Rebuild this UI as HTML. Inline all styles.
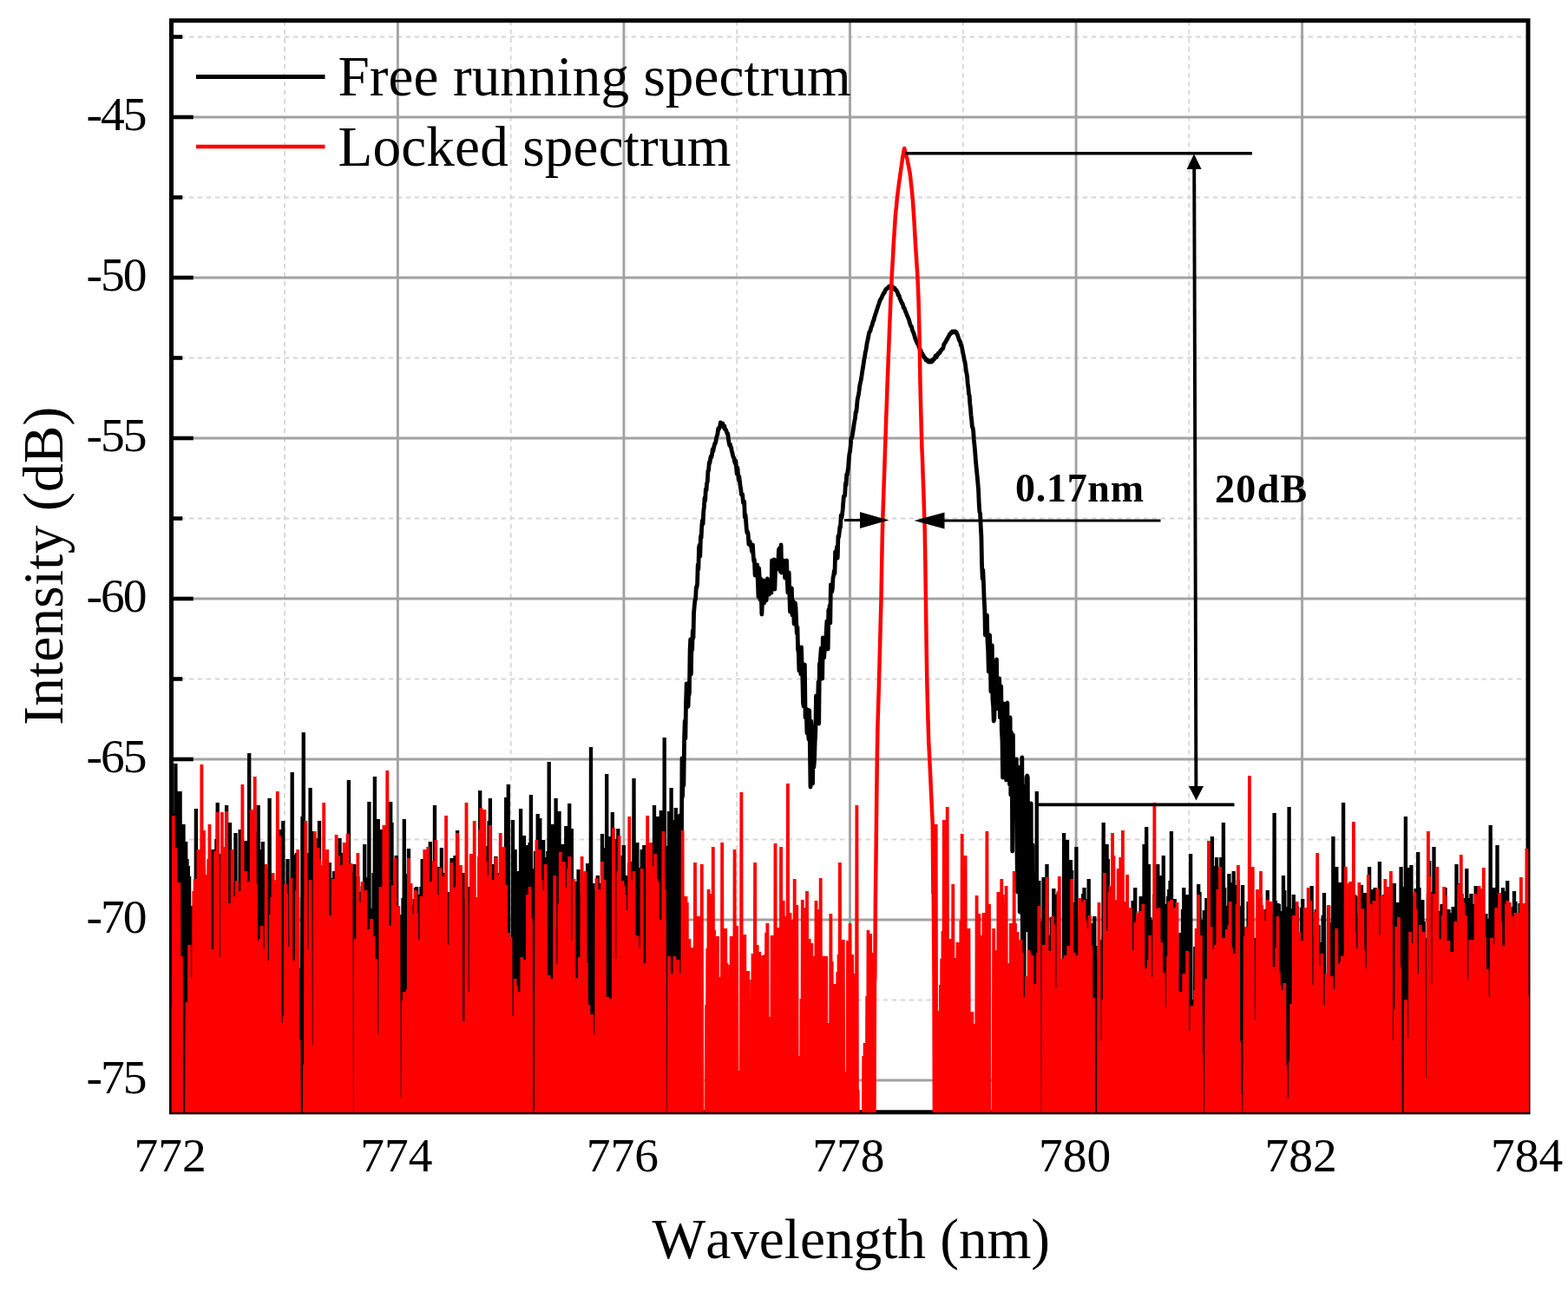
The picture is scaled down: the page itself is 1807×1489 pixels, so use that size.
<!DOCTYPE html>
<html lang="en">
<head>
<meta charset="utf-8">
<title>Free running spectrum vs. locked spectrum</title>
<style>
html,body{margin:0;padding:0;background:#fff;}
body{width:1807px;height:1489px;overflow:hidden;font-family:"Liberation Serif","DejaVu Serif",serif;}
svg{display:block;}
</style>
</head>
<body>
<svg width="1807" height="1489" viewBox="0 0 1807 1489" role="img" aria-label="Free running spectrum and locked spectrum, intensity versus wavelength" font-family="'Liberation Serif', 'DejaVu Serif', serif">
<rect x="0" y="0" width="1807" height="1489" fill="#fff"/>
<defs><clipPath id="cp"><rect x="197.6" y="23.7" width="1564.4" height="1258.3"/></clipPath></defs>
<g stroke="#d6d6d6" stroke-width="1.8" stroke-dasharray="5.4 4.6" fill="none">
<path d="M328.1 24.0V1282.0"/>
<path d="M588.7 24.0V1282.0"/>
<path d="M849.2 24.0V1282.0"/>
<path d="M1109.8 24.0V1282.0"/>
<path d="M1370.3 24.0V1282.0"/>
<path d="M1630.9 24.0V1282.0"/>
<path d="M197.8 42.5H1761.2"/>
<path d="M197.8 227.5H1761.2"/>
<path d="M197.8 412.5H1761.2"/>
<path d="M197.8 597.5H1761.2"/>
<path d="M197.8 782.5H1761.2"/>
<path d="M197.8 967.5H1761.2"/>
<path d="M197.8 1152.5H1761.2"/>
</g>
<g stroke="#a2a2a2" stroke-width="2.9" fill="none">
<path d="M458.4 24.0V1282.0"/>
<path d="M718.9 24.0V1282.0"/>
<path d="M979.5 24.0V1282.0"/>
<path d="M1240.1 24.0V1282.0"/>
<path d="M1500.6 24.0V1282.0"/>
<path d="M197.8 135.0H1761.2"/>
<path d="M197.8 320.0H1761.2"/>
<path d="M197.8 505.0H1761.2"/>
<path d="M197.8 690.0H1761.2"/>
<path d="M197.8 875.0H1761.2"/>
<path d="M197.8 1060.0H1761.2"/>
<path d="M197.8 1245.0H1761.2"/>
</g>
<rect x="197.5" y="23.7" width="1563.5" height="1258.1" fill="none" stroke="#000" stroke-width="5"/>
<g stroke="#000" stroke-width="4.6" fill="none">
<path d="M197.8 135.0h25"/>
<path d="M197.8 320.0h25"/>
<path d="M197.8 505.0h25"/>
<path d="M197.8 690.0h25"/>
<path d="M197.8 875.0h25"/>
<path d="M197.8 1060.0h25"/>
<path d="M197.8 1245.0h25"/>
<path d="M197.8 42.5h12.5"/>
<path d="M197.8 227.5h12.5"/>
<path d="M197.8 412.5h12.5"/>
<path d="M197.8 597.5h12.5"/>
<path d="M197.8 782.5h12.5"/>
<path d="M197.8 967.5h12.5"/>
<path d="M197.8 1152.5h12.5"/>
</g>
<g clip-path="url(#cp)" fill="none" stroke-linejoin="bevel" stroke-linecap="butt">
<path d="M197.2 979L197.9 1352L198.5 1044L199.2 1352L199.8 1063L200.5 1352L201.1 937L201.8 1352L202.4 880L203.1 1352L203.7 984L204.4 1352L205.0 912L205.7 1352L206.3 1248L207.0 1352L207.6 912L208.3 1352L208.9 964L209.6 1352L210.2 980L210.9 1352L211.5 950L212.2 1352L212.8 1274L213.5 1352L214.2 970L214.8 1352L215.5 990L216.1 1352L216.8 998L217.4 1352L218.1 1010L218.7 1352L219.4 1068L220.0 1352L220.7 1044L221.3 1352L222.0 1071L222.6 1352L223.3 1079L223.9 1352L224.6 1055L225.2 1352L225.9 932L226.5 1352L227.2 1131L227.8 1352L228.5 1080L229.1 1352L229.8 1046L230.5 1352L231.1 1149L231.8 1352L232.4 1053L233.1 1352L233.7 1315L234.4 1352L235.0 999L235.7 1352L236.3 1053L237.0 1352L237.6 1041L238.3 1352L238.9 1020L239.6 1352L240.2 1061L240.9 1352L241.5 1003L242.2 1352L242.8 1140L243.5 1352L244.1 1187L244.8 1352L245.4 979L246.1 1352L246.8 1038L247.4 1352L248.1 1009L248.7 1352L249.4 967L250.0 1352L250.7 925L251.3 1352L252.0 1216L252.6 1352L253.3 1032L253.9 1352L254.6 984L255.2 1352L255.9 1081L256.5 1352L257.2 998L257.8 1352L258.5 1221L259.1 1352L259.8 1000L260.4 1352L261.1 928L261.7 1352L262.4 961L263.1 1352L263.7 1019L264.4 1352L265.0 948L265.7 1352L266.3 1039L267.0 1352L267.6 1226L268.3 1352L268.9 1087L269.6 1352L270.2 1018L270.9 1352L271.5 960L272.2 1352L272.8 1335L273.5 1352L274.1 1037L274.8 1352L275.4 1086L276.1 1352L276.7 956L277.4 1352L278.0 1169L278.7 1352L279.4 1060L280.0 1352L280.7 1014L281.3 1352L282.0 1015L282.6 1352L283.3 969L283.9 1352L284.6 991L285.2 1352L285.9 992L286.5 1352L287.2 868L287.8 1352L288.5 1038L289.1 1352L289.8 979L290.4 1352L291.1 1107L291.7 1352L292.4 997L293.0 1352L293.7 959L294.3 1352L295.0 1063L295.7 1352L296.3 1216L297.0 1352L297.6 928L298.3 1352L298.9 1012L299.6 1352L300.2 995L300.9 1352L301.5 979L302.2 1352L302.8 970L303.5 1352L304.1 1012L304.8 1352L305.4 1101L306.1 1352L306.7 1043L307.4 1352L308.0 1175L308.7 1352L309.3 1001L310.0 1352L310.6 920L311.3 1352L312.0 1015L312.6 1352L313.3 1006L313.9 1352L314.6 1312L315.2 1352L315.9 1264L316.5 1352L317.2 1018L317.8 1352L318.5 1033L319.1 1352L319.8 1015L320.4 1352L321.1 1110L321.7 1352L322.4 956L323.0 1352L323.7 1028L324.3 1352L325.0 1005L325.6 1352L326.3 946L326.9 1352L327.6 1169L328.3 1352L328.9 1108L329.6 1352L330.2 1052L330.9 1352L331.5 990L332.2 1352L332.8 1078L333.5 1352L334.1 1086L334.8 1352L335.4 1127L336.1 1352L336.7 890L337.4 1352L338.0 1248L338.7 1352L339.3 985L340.0 1352L340.6 1069L341.3 1352L341.9 983L342.6 1352L343.2 1034L343.9 1352L344.6 1130L345.2 1352L345.9 1215L346.5 1352L347.2 1116L347.8 1352L348.5 941L349.1 1352L349.8 844L350.4 1352L351.1 1021L351.7 1352L352.4 988L353.0 1352L353.7 1338L354.3 1352L355.0 983L355.6 1352L356.3 1004L356.9 1352L357.6 908L358.2 1352L358.9 1021L359.5 1352L360.2 958L360.9 1352L361.5 1190L362.2 1352L362.8 1072L363.5 1352L364.1 987L364.8 1352L365.4 1044L366.1 1352L366.7 966L367.4 1352L368.0 946L368.7 1352L369.3 1066L370.0 1352L370.6 1003L371.3 1352L371.9 1005L372.6 1352L373.2 1054L373.9 1352L374.5 1072L375.2 1352L375.8 1016L376.5 1352L377.2 1074L377.8 1352L378.5 1020L379.1 1352L379.8 994L380.4 1352L381.1 1012L381.7 1352L382.4 1026L383.0 1352L383.7 1233L384.3 1352L385.0 1004L385.6 1352L386.3 1055L386.9 1352L387.6 1293L388.2 1352L388.9 1227L389.5 1352L390.2 1088L390.8 1352L391.5 966L392.1 1352L392.8 1008L393.5 1352L394.1 1084L394.8 1352L395.4 983L396.1 1352L396.7 1038L397.4 1352L398.0 1008L398.7 1352L399.3 1097L400.0 1352L400.6 1142L401.3 1352L401.9 899L402.6 1352L403.2 1117L403.9 1352L404.5 1008L405.2 1352L405.8 1132L406.5 1352L407.1 1005L407.8 1352L408.4 996L409.1 1352L409.8 1017L410.4 1352L411.1 1044L411.7 1352L412.4 1010L413.0 1352L413.7 1064L414.3 1352L415.0 1064L415.6 1352L416.3 1028L416.9 1352L417.6 1021L418.2 1352L418.9 1104L419.5 1352L420.2 973L420.8 1352L421.5 1011L422.1 1352L422.8 1138L423.4 1352L424.1 1029L424.7 1352L425.4 924L426.1 1352L426.7 1053L427.4 1352L428.0 1081L428.7 1352L429.3 1047L430.0 1352L430.6 1006L431.3 1352L431.9 895L432.6 1352L433.2 1313L433.9 1352L434.5 971L435.2 1352L435.8 944L436.5 1352L437.1 1016L437.8 1352L438.4 1053L439.1 1352L439.7 956L440.4 1352L441.0 1138L441.7 1352L442.4 1128L443.0 1352L443.7 1072L444.3 1352L445.0 1222L445.6 1352L446.3 1114L446.9 1352L447.6 1012L448.2 1352L448.9 1074L449.5 1352L450.2 924L450.8 1352L451.5 948L452.1 1352L452.8 1018L453.4 1352L454.1 1112L454.7 1352L455.4 1025L456.0 1352L456.7 986L457.3 1352L458.0 1196L458.7 1352L459.3 1085L460.0 1352L460.6 1109L461.3 1352L461.9 1054L462.6 1352L463.2 1128L463.9 1352L464.5 1035L465.2 1352L465.8 944L466.5 1352L467.1 1056L467.8 1352L468.4 1007L469.1 1352L469.7 1148L470.4 1352L471.0 978L471.7 1352L472.3 1090L473.0 1352L473.6 1141L474.3 1352L475.0 1043L475.6 1352L476.3 1201L476.9 1352L477.6 1036L478.2 1352L478.9 1023L479.5 1352L480.2 1022L480.8 1352L481.5 1036L482.1 1352L482.8 1031L483.4 1352L484.1 1174L484.7 1352L485.4 1022L486.0 1352L486.7 990L487.3 1352L488.0 1029L488.6 1352L489.3 1049L489.9 1352L490.6 1044L491.3 1352L491.9 1017L492.6 1352L493.2 1182L493.9 1352L494.5 998L495.2 1352L495.8 970L496.5 1352L497.1 995L497.8 1352L498.4 1307L499.1 1352L499.7 1023L500.4 1352L501.0 928L501.7 1352L502.3 1050L503.0 1352L503.6 999L504.3 1352L504.9 999L505.6 1352L506.2 1095L506.9 1352L507.6 1051L508.2 1352L508.9 977L509.5 1352L510.2 1011L510.8 1352L511.5 1006L512.1 1352L512.8 1187L513.4 1352L514.1 1119L514.7 1352L515.4 1033L516.0 1352L516.7 1028L517.3 1352L518.0 1106L518.6 1352L519.3 1302L519.9 1352L520.6 989L521.2 1352L521.9 1022L522.5 1352L523.2 1045L523.9 1352L524.5 986L525.2 1352L525.8 1001L526.5 1352L527.1 957L527.8 1352L528.4 1025L529.1 1352L529.7 1107L530.4 1352L531.0 1065L531.7 1352L532.3 1015L533.0 1352L533.6 1006L534.3 1352L534.9 1036L535.6 1352L536.2 1195L536.9 1352L537.5 1235L538.2 1352L538.8 1022L539.5 1352L540.2 1207L540.8 1352L541.5 1249L542.1 1352L542.8 1028L543.4 1352L544.1 1110L544.7 1352L545.4 1022L546.0 1352L546.7 1036L547.3 1352L548.0 1040L548.6 1352L549.3 1145L549.9 1352L550.6 1235L551.2 1352L551.9 1035L552.5 1352L553.2 911L553.8 1352L554.5 976L555.1 1352L555.8 1222L556.5 1352L557.1 1190L557.8 1352L558.4 1298L559.1 1352L559.7 1061L560.4 1352L561.0 1044L561.7 1352L562.3 975L563.0 1352L563.6 946L564.3 1352L564.9 920L565.6 1352L566.2 1024L566.9 1352L567.5 1023L568.2 1352L568.8 996L569.5 1352L570.1 1038L570.8 1352L571.4 987L572.1 1352L572.8 1013L573.4 1352L574.1 1036L574.7 1352L575.4 1006L576.0 1352L576.7 1018L577.3 1352L578.0 998L578.6 1352L579.3 1008L579.9 1352L580.6 1011L581.2 1352L581.9 999L582.5 1352L583.2 919L583.8 1352L584.5 1220L585.1 1352L585.8 904L586.4 1352L587.1 1232L587.7 1352L588.4 1258L589.1 1352L589.7 1128L590.4 1352L591.0 945L591.7 1352L592.3 992L593.0 1352L593.6 979L594.3 1352L594.9 1026L595.6 1352L596.2 1013L596.9 1352L597.5 1004L598.2 1352L598.8 1128L599.5 1352L600.1 932L600.8 1352L601.4 971L602.1 1352L602.7 990L603.4 1352L604.0 963L604.7 1352L605.4 1066L606.0 1352L606.7 985L607.3 1352L608.0 974L608.6 1352L609.3 1039L609.9 1352L610.6 971L611.2 1352L611.9 916L612.5 1352L613.2 1015L613.8 1352L614.5 1001L615.1 1352L615.8 1186L616.4 1352L617.1 981L617.7 1352L618.4 1116L619.0 1352L619.7 938L620.3 1352L621.0 951L621.7 1352L622.3 943L623.0 1352L623.6 1017L624.3 1352L624.9 977L625.6 1352L626.2 968L626.9 1352L627.5 988L628.2 1352L628.8 997L629.5 1352L630.1 1208L630.8 1352L631.4 981L632.1 1352L632.7 878L633.4 1352L634.0 1010L634.7 1352L635.3 971L636.0 1352L636.6 950L637.3 1352L638.0 967L638.6 1352L639.3 977L639.9 1352L640.6 920L641.2 1352L641.9 963L642.5 1352L643.2 1026L643.8 1352L644.5 935L645.1 1352L645.8 1089L646.4 1352L647.1 1285L647.7 1352L648.4 973L649.0 1352L649.7 1038L650.3 1352L651.0 986L651.6 1352L652.3 952L652.9 1352L653.6 1209L654.3 1352L654.9 1086L655.6 1352L656.2 926L656.9 1352L657.5 1266L658.2 1352L658.8 955L659.5 1352L660.1 1149L660.8 1352L661.4 1237L662.1 1352L662.7 1016L663.4 1352L664.0 1024L664.7 1352L665.3 1038L666.0 1352L666.6 1002L667.3 1352L667.9 1049L668.6 1352L669.2 1029L669.9 1352L670.6 1097L671.2 1352L671.9 1037L672.5 1352L673.2 1017L673.8 1352L674.5 1069L675.1 1352L675.8 1048L676.4 1352L677.1 995L677.7 1352L678.4 1012L679.0 1352L679.7 1155L680.3 1352L681.0 861L681.6 1352L682.3 1018L682.9 1352L683.6 1018L684.2 1352L684.9 1139L685.5 1352L686.2 1061L686.9 1352L687.5 1027L688.2 1352L688.8 1009L689.5 1352L690.1 1027L690.8 1352L691.4 1020L692.1 1352L692.7 1018L693.4 1352L694.0 961L694.7 1352L695.3 1009L696.0 1352L696.6 977L697.3 1352L697.9 1046L698.6 1352L699.2 892L699.9 1352L700.5 1203L701.2 1352L701.8 964L702.5 1352L703.2 976L703.8 1352L704.5 1064L705.1 1352L705.8 936L706.4 1352L707.1 1121L707.7 1352L708.4 1022L709.0 1352L709.7 967L710.3 1352L711.0 1094L711.6 1352L712.3 955L712.9 1352L713.6 1059L714.2 1352L714.9 1216L715.5 1352L716.2 1110L716.8 1352L717.5 986L718.1 1352L718.8 974L719.5 1352L720.1 1210L720.8 1352L721.4 1052L722.1 1352L722.7 1009L723.4 1352L724.0 1047L724.7 1352L725.3 994L726.0 1352L726.6 1009L727.3 1352L727.9 993L728.6 1352L729.2 1060L729.9 1352L730.5 897L731.2 1352L731.8 1258L732.5 1352L733.1 1170L733.8 1352L734.4 971L735.1 1352L735.8 1000L736.4 1352L737.1 1247L737.7 1352L738.4 1021L739.0 1352L739.7 979L740.3 1352L741.0 1003L741.6 1352L742.3 974L742.9 1352L743.6 999L744.2 1352L744.9 1137L745.5 1352L746.2 1198L746.8 1352L747.5 1006L748.1 1352L748.8 1028L749.4 1352L750.1 1018L750.7 1352L751.4 1005L752.1 1352L752.7 1291L753.4 1352L754.0 928L754.7 1352L755.3 969L756.0 1352L756.6 968L757.3 1352L757.9 941L758.6 1352L759.2 1033L759.9 1352L760.5 1020L761.2 1352L761.8 934L762.5 1352L763.1 998L763.8 1352L764.4 968L765.1 1352L765.7 850L766.4 1352L767.0 997L767.7 1352L768.4 975L769.0 1352L769.7 1211L770.3 1352L771.0 935L771.6 1352L772.3 989L772.9 1352L773.6 908L774.2 1352L774.9 992L775.5 1352L776.2 959L776.8 1352L777.5 945L778.1 1352L778.8 931L779.4 1226M1192.2 1021L1192.8 1352L1193.5 1006L1194.1 1352L1194.8 912L1195.4 1352L1196.1 1281L1196.7 1352L1197.4 1015L1198.0 1352L1198.7 1188L1199.3 1352L1200.0 1062L1200.6 1352L1201.3 1315L1201.9 1352L1202.6 1011L1203.2 1352L1203.9 1265L1204.5 1352L1205.2 1131L1205.8 1352L1206.5 996L1207.1 1352L1207.8 1078L1208.5 1352L1209.1 1107L1209.8 1352L1210.4 1112L1211.1 1352L1211.7 1057L1212.4 1352L1213.0 1091L1213.7 1352L1214.3 1024L1215.0 1352L1215.6 1031L1216.3 1352L1216.9 1062L1217.6 1352L1218.2 1226L1218.9 1352L1219.5 1029L1220.2 1352L1220.8 1152L1221.5 1352L1222.1 1322L1222.8 1352L1223.4 1218L1224.1 1352L1224.8 1294L1225.4 1352L1226.1 960L1226.7 1352L1227.4 1009L1228.0 1352L1228.7 1011L1229.3 1352L1230.0 968L1230.6 1352L1231.3 1024L1231.9 1352L1232.6 1043L1233.2 1352L1233.9 991L1234.5 1352L1235.2 1003L1235.8 1352L1236.5 1040L1237.1 1352L1237.8 1043L1238.4 1352L1239.1 1089L1239.7 1352L1240.4 976L1241.1 1352L1241.7 1058L1242.4 1352L1243.0 1119L1243.7 1352L1244.3 1146L1245.0 1352L1245.6 1047L1246.3 1352L1246.9 1072L1247.6 1352L1248.2 1030L1248.9 1352L1249.5 1023L1250.2 1352L1250.8 1036L1251.5 1352L1252.1 1038L1252.8 1352L1253.4 1079L1254.1 1352L1254.7 1013L1255.4 1352L1256.0 1074L1256.7 1352L1257.4 1159L1258.0 1352L1258.7 1064L1259.3 1352L1260.0 1101L1260.6 1352L1261.3 1056L1261.9 1352L1262.6 1090L1263.2 1352L1263.9 1114L1264.5 1352L1265.2 1286L1265.8 1352L1266.5 1104L1267.1 1352L1267.8 1083L1268.4 1352L1269.1 1100L1269.7 1352L1270.4 1142L1271.0 1352L1271.7 948L1272.3 1352L1273.0 1027L1273.7 1352L1274.3 1062L1275.0 1352L1275.6 973L1276.3 1352L1276.9 990L1277.6 1352L1278.2 1316L1278.9 1352L1279.5 1225L1280.2 1352L1280.8 1080L1281.5 1352L1282.1 1137L1282.8 1352L1283.4 1222L1284.1 1352L1284.7 1039L1285.4 1352L1286.0 1315L1286.7 1352L1287.3 1057L1288.0 1352L1288.6 1050L1289.3 1352L1290.0 1083L1290.6 1352L1291.3 1102L1291.9 1352L1292.6 1098L1293.2 1352L1293.9 1056L1294.5 1352L1295.2 1242L1295.8 1352L1296.5 1098L1297.1 1352L1297.8 1308L1298.4 1352L1299.1 1068L1299.7 1352L1300.4 1148L1301.0 1352L1301.7 1070L1302.3 1352L1303.0 1055L1303.6 1352L1304.3 1197L1304.9 1352L1305.6 1038L1306.3 1352L1306.9 1089L1307.6 1352L1308.2 1023L1308.9 1352L1309.5 1170L1310.2 1352L1310.8 1108L1311.5 1352L1312.1 1088L1312.8 1352L1313.4 1302L1314.1 1352L1314.7 1033L1315.4 1352L1316.0 1075L1316.7 1352L1317.3 1282L1318.0 1352L1318.6 973L1319.3 1352L1319.9 1101L1320.6 1352L1321.2 953L1321.9 1352L1322.6 1036L1323.2 1352L1323.9 996L1324.5 1352L1325.2 1057L1325.8 1352L1326.5 1063L1327.1 1352L1327.8 1060L1328.4 1352L1329.1 1088L1329.7 1352L1330.4 1031L1331.0 1352L1331.7 1200L1332.3 1352L1333.0 1033L1333.6 1352L1334.3 996L1334.9 1352L1335.6 1042L1336.2 1352L1336.9 1257L1337.5 1352L1338.2 1009L1338.9 1352L1339.5 1031L1340.2 1352L1340.8 986L1341.5 1352L1342.1 1247L1342.8 1352L1343.4 1042L1344.1 1352L1344.7 1167L1345.4 1352L1346.0 1033L1346.7 1352L1347.3 1025L1348.0 1352L1348.6 1015L1349.3 1352L1349.9 958L1350.6 1352L1351.2 1119L1351.9 1352L1352.5 1326L1353.2 1352L1353.8 1036L1354.5 1352L1355.2 1288L1355.8 1352L1356.5 1123L1357.1 1352L1357.8 1234L1358.4 1352L1359.1 1323L1359.7 1352L1360.4 1075L1361.0 1352L1361.7 1080L1362.3 1352L1363.0 1048L1363.6 1352L1364.3 1023L1364.9 1352L1365.6 1036L1366.2 1352L1366.9 1066L1367.5 1352L1368.2 1031L1368.8 1352L1369.5 1054L1370.1 1352L1370.8 1122L1371.5 1352L1372.1 984L1372.8 1352L1373.4 1285L1374.1 1352L1374.7 1152L1375.4 1352L1376.0 1264L1376.7 1352L1377.3 1091L1378.0 1352L1378.6 1116L1379.3 1352L1379.9 1081L1380.6 1352L1381.2 1019L1381.9 1352L1382.5 1028L1383.2 1352L1383.8 1126L1384.5 1352L1385.1 1060L1385.8 1352L1386.4 1060L1387.1 1352L1387.8 1049L1388.4 1352L1389.1 1056L1389.7 1352L1390.4 1035L1391.0 1352L1391.7 1036L1392.3 1352L1393.0 1041L1393.6 1352L1394.3 1106L1394.9 1352L1395.6 1043L1396.2 1352L1396.9 964L1397.5 1352L1398.2 1085L1398.8 1352L1399.5 1271L1400.1 1352L1400.8 998L1401.4 1352L1402.1 988L1402.7 1352L1403.4 1018L1404.1 1352L1404.7 1023L1405.4 1352L1406.0 1010L1406.7 1352L1407.3 988L1408.0 1352L1408.6 1021L1409.3 1352L1409.9 948L1410.6 1352L1411.2 1023L1411.9 1352L1412.5 1062L1413.2 1352L1413.8 1093L1414.5 1352L1415.1 1044L1415.8 1352L1416.4 1007L1417.1 1352L1417.7 1017L1418.4 1352L1419.0 1029L1419.7 1352L1420.4 1032L1421.0 1352L1421.7 1004L1422.3 1352L1423.0 1191L1423.6 1352L1424.3 1110L1424.9 1352L1425.6 1020L1426.2 1352L1426.9 1014L1427.5 1352L1428.2 1055L1428.8 1352L1429.5 1044L1430.1 1352L1430.8 1100L1431.4 1352L1432.1 1020L1432.7 1352L1433.4 1101L1434.0 1352L1434.7 1078L1435.3 1352L1436.0 1069L1436.7 1352L1437.3 1222L1438.0 1352L1438.6 1039L1439.3 1352L1439.9 1077L1440.6 1352L1441.2 1077L1441.9 1352L1442.5 1314L1443.2 1352L1443.8 1311L1444.5 1352L1445.1 1081L1445.8 1352L1446.4 1125L1447.1 1352L1447.7 1103L1448.4 1352L1449.0 1057L1449.7 1352L1450.3 1035L1451.0 1352L1451.6 1043L1452.3 1352L1453.0 1034L1453.6 1352L1454.3 1175L1454.9 1352L1455.6 1110L1456.2 1352L1456.9 1123L1457.5 1352L1458.2 1048L1458.8 1352L1459.5 1057L1460.1 1352L1460.8 1026L1461.4 1352L1462.1 1164L1462.7 1352L1463.4 1133L1464.0 1352L1464.7 1255L1465.3 1352L1466.0 1062L1466.6 1352L1467.3 1054L1467.9 1352L1468.6 937L1469.3 1352L1469.9 1038L1470.6 1352L1471.2 1073L1471.9 1352L1472.5 1041L1473.2 1352L1473.8 1042L1474.5 1352L1475.1 1108L1475.8 1352L1476.4 1063L1477.1 1352L1477.7 1050L1478.4 1352L1479.0 1009L1479.7 1352L1480.3 1026L1481.0 1352L1481.6 1170L1482.3 1352L1482.9 1304L1483.6 1352L1484.2 1045L1484.9 1352L1485.6 930L1486.2 1352L1486.9 1191L1487.5 1352L1488.2 1194L1488.8 1352L1489.5 1047L1490.1 1352L1490.8 1031L1491.4 1352L1492.1 1103L1492.7 1352L1493.4 1086L1494.0 1352L1494.7 1044L1495.3 1352L1496.0 1115L1496.6 1352L1497.3 1106L1497.9 1352L1498.6 1081L1499.2 1352L1499.9 1046L1500.5 1352L1501.2 1036L1501.9 1352L1502.5 1060L1503.2 1352L1503.8 1090L1504.5 1352L1505.1 1080L1505.8 1352L1506.4 1080L1507.1 1352L1507.7 1052L1508.4 1352L1509.0 1060L1509.7 1352L1510.3 1057L1511.0 1352L1511.6 1021L1512.3 1352L1512.9 1174L1513.6 1352L1514.2 1080L1514.9 1352L1515.5 1085L1516.2 1352L1516.8 1048L1517.5 1352L1518.2 1147L1518.8 1352L1519.5 1066L1520.1 1352L1520.8 1121L1521.4 1352L1522.1 1234L1522.7 1352L1523.4 1086L1524.0 1352L1524.7 1055L1525.3 1352L1526.0 1029L1526.6 1352L1527.3 1232L1527.9 1352L1528.6 1128L1529.2 1352L1529.9 1143L1530.5 1352L1531.2 1044L1531.8 1352L1532.5 1204L1533.1 1352L1533.8 1063L1534.5 1352L1535.1 1073L1535.8 1352L1536.4 964L1537.1 1352L1537.7 1023L1538.4 1352L1539.0 1046L1539.7 1352L1540.3 999L1541.0 1352L1541.6 1034L1542.3 1352L1542.9 1113L1543.6 1352L1544.2 1017L1544.9 1352L1545.5 1129L1546.2 1352L1546.8 1020L1547.5 1352L1548.1 925L1548.8 1352L1549.4 1072L1550.1 1352L1550.8 1146L1551.4 1352L1552.1 1078L1552.7 1352L1553.4 1068L1554.0 1352L1554.7 1121L1555.3 1352L1556.0 1077L1556.6 1352L1557.3 1039L1557.9 1352L1558.6 1080L1559.2 1352L1559.9 1048L1560.5 1352L1561.2 1031L1561.8 1352L1562.5 1033L1563.1 1352L1563.8 1053L1564.4 1352L1565.1 1080L1565.7 1352L1566.4 1082L1567.1 1352L1567.7 1154L1568.4 1352L1569.0 1020L1569.7 1352L1570.3 1041L1571.0 1352L1571.6 1043L1572.3 1352L1572.9 1029L1573.6 1352L1574.2 1041L1574.9 1352L1575.5 1127L1576.2 1352L1576.8 1032L1577.5 1352L1578.1 999L1578.8 1352L1579.4 1119L1580.1 1352L1580.7 1025L1581.4 1352L1582.0 1033L1582.7 1352L1583.4 1061L1584.0 1352L1584.7 1023L1585.3 1352L1586.0 1081L1586.6 1352L1587.3 1156L1587.9 1352L1588.6 1041L1589.2 1352L1589.9 993L1590.5 1352L1591.2 1078L1591.8 1352L1592.5 1080L1593.1 1352L1593.8 1064L1594.4 1352L1595.1 1031L1595.7 1352L1596.4 1074L1597.0 1352L1597.7 1073L1598.3 1352L1599.0 1230L1599.7 1352L1600.3 1084L1601.0 1352L1601.6 1329L1602.3 1352L1602.9 1052L1603.6 1352L1604.2 1079L1604.9 1352L1605.5 1068L1606.2 1352L1606.8 1018L1607.5 1352L1608.1 1089L1608.8 1352L1609.4 1075L1610.1 1352L1610.7 1040L1611.4 1352L1612.0 1092L1612.7 1352L1613.3 1043L1614.0 1352L1614.6 999L1615.3 1352L1616.0 1058L1616.6 1352L1617.3 1022L1617.9 1352L1618.6 1078L1619.2 1352L1619.9 941L1620.5 1352L1621.2 1097L1621.8 1352L1622.5 1000L1623.1 1352L1623.8 1034L1624.4 1352L1625.1 1013L1625.7 1352L1626.4 997L1627.0 1352L1627.7 1057L1628.3 1352L1629.0 1058L1629.6 1352L1630.3 1032L1630.9 1352L1631.6 1024L1632.3 1352L1632.9 1086L1633.6 1352L1634.2 982L1634.9 1352L1635.5 1023L1636.2 1352L1636.8 1083L1637.5 1352L1638.1 1042L1638.8 1352L1639.4 1037L1640.1 1352L1640.7 1062L1641.4 1352L1642.0 1081L1642.7 1352L1643.3 1084L1644.0 1352L1644.6 1101L1645.3 1352L1645.9 1030L1646.6 1352L1647.2 992L1647.9 1352L1648.6 1028L1649.2 1352L1649.9 1038L1650.5 1352L1651.2 1085L1651.8 1352L1652.5 976L1653.1 1352L1653.8 1051L1654.4 1352L1655.1 1036L1655.7 1352L1656.4 1054L1657.0 1352L1657.7 1050L1658.3 1352L1659.0 1101L1659.6 1352L1660.3 1088L1660.9 1352L1661.6 1042L1662.2 1352L1662.9 1264L1663.5 1352L1664.2 1058L1664.9 1352L1665.5 1023L1666.2 1352L1666.8 1055L1667.5 1352L1668.1 1087L1668.8 1352L1669.4 1048L1670.1 1352L1670.7 1052L1671.4 1352L1672.0 1068L1672.7 1352L1673.3 1143L1674.0 1352L1674.6 1045L1675.3 1352L1675.9 1073L1676.6 1352L1677.2 1071L1677.9 1352L1678.5 996L1679.2 1352L1679.8 1314L1680.5 1352L1681.2 1018L1681.8 1352L1682.5 1050L1683.1 1352L1683.8 1137L1684.4 1352L1685.1 1115L1685.7 1352L1686.4 1053L1687.0 1352L1687.7 1035L1688.3 1352L1689.0 1050L1689.6 1352L1690.3 1001L1690.9 1352L1691.6 1054L1692.2 1352L1692.9 1056L1693.5 1352L1694.2 1035L1694.8 1352L1695.5 1030L1696.1 1352L1696.8 1070L1697.5 1352L1698.1 1042L1698.8 1352L1699.4 1265L1700.1 1352L1700.7 1021L1701.4 1352L1702.0 1062L1702.7 1352L1703.3 1048L1704.0 1352L1704.6 1237L1705.3 1352L1705.9 1186L1706.6 1352L1707.2 1099L1707.9 1352L1708.5 1219L1709.2 1352L1709.8 1125L1710.5 1352L1711.1 1099L1711.8 1352L1712.4 1053L1713.1 1352L1713.8 1059L1714.4 1352L1715.1 1091L1715.7 1352L1716.4 1299L1717.0 1352L1717.7 951L1718.3 1352L1719.0 1038L1719.6 1352L1720.3 1197L1720.9 1352L1721.6 1023L1722.2 1352L1722.9 1271L1723.5 1352L1724.2 1335L1724.8 1352L1725.5 974L1726.1 1352L1726.8 1034L1727.4 1352L1728.1 1338L1728.7 1352L1729.4 1299L1730.1 1352L1730.7 1098L1731.4 1352L1732.0 1023L1732.7 1352L1733.3 1027L1734.0 1352L1734.6 1269L1735.3 1352L1735.9 1146L1736.6 1352L1737.2 1015L1737.9 1352L1738.5 1053L1739.2 1352L1739.8 1126L1740.5 1352L1741.1 1222L1741.8 1352L1742.4 1073L1743.1 1352L1743.7 1045L1744.4 1352L1745.0 1027L1745.7 1352L1746.4 1039L1747.0 1352L1747.7 1075L1748.3 1352L1749.0 1055L1749.6 1352L1750.3 1066L1750.9 1352L1751.6 1041L1752.2 1352L1752.9 1057L1753.5 1352L1754.2 1148L1754.8 1352L1755.5 1123L1756.1 1352L1756.8 1119L1757.4 1352L1758.1 1100L1758.7 1352L1759.4 1074L1760.0 1352L1760.7 1041L1761.3 1352L1762.0 1072" stroke="#000" stroke-width="4.3"/>
<path d="M779.4 1226L780.1 1226L780.7 1226L781.4 1226L782.0 1107L782.7 957L783.3 940L784.0 1226L784.7 1137L785.3 1001L786.0 874L786.6 918L787.3 882L787.9 905L788.6 851L789.2 831L789.9 851L790.5 811L791.2 788L791.8 815L792.5 795L793.1 814L793.8 790L794.4 800L795.1 750L795.7 737L796.4 777L797.0 743L797.7 749L798.3 727L799.0 735L799.6 706L800.3 698L801.0 691L801.6 691L802.3 677L802.9 677L803.6 673L804.2 651L804.9 656L805.5 631L806.2 628L806.8 641L807.5 618L808.1 620L808.8 606L809.4 600L810.1 604L810.7 590L811.4 584L812.0 574L812.7 577L813.3 564L814.0 565L814.6 557L815.3 555L815.9 543L816.6 542L817.3 533L817.9 534L818.6 529L819.2 526L819.9 527L820.5 524L821.2 518L821.8 520L822.5 516L823.1 514L823.8 511L824.4 511L825.1 508L825.7 504L826.4 502L827.0 500L827.7 494L828.3 495L829.0 493L829.6 492L830.3 487L830.9 489L831.6 490L832.2 491L832.9 488L833.6 491L834.2 493L834.9 491L835.5 495L836.2 495L836.8 496L837.5 498L838.1 500L838.8 500L839.4 506L840.1 510L840.7 513L841.4 512L842.0 515L842.7 516L843.3 520L844.0 522L844.6 525L845.3 527L845.9 528L846.6 532L847.2 534L847.9 531L848.5 538L849.2 546L849.9 539L850.5 546L851.2 553L851.8 549L852.5 555L853.1 560L853.8 564L854.4 570L855.1 570L855.7 570L856.4 579L857.0 580L857.7 578L858.3 596L859.0 593L859.6 600L860.3 609L860.9 614L861.6 613L862.2 616L862.9 627L863.5 625L864.2 624L864.8 629L865.5 628L866.2 633L866.8 636L867.5 628L868.1 640L868.8 647L869.4 645L870.1 663L870.7 660L871.4 653L872.0 657L872.7 651L873.3 669L874.0 688L874.6 655L875.3 666L875.9 691L876.6 667L877.2 683L877.9 708L878.5 693L879.2 693L879.8 669L880.5 695L881.1 687L881.8 687L882.5 687L883.1 692L883.8 678L884.4 667L885.1 670L885.7 684L886.4 685L887.0 670L887.7 676L888.3 674L889.0 683L889.6 646L890.3 653L890.9 670L891.6 650L892.2 645L892.9 679L893.5 659L894.2 657L894.8 646L895.5 652L896.1 652L896.8 650L897.4 634L898.1 632L898.8 655L899.4 659L900.1 628L900.7 660L901.4 657L902.0 652L902.7 650L903.3 646L904.0 653L904.6 666L905.3 654L905.9 658L906.6 646L907.2 667L907.9 683L908.5 683L909.2 660L909.8 683L910.5 705L911.1 690L911.8 688L912.4 678L913.1 709L913.7 692L914.4 695L915.1 719L915.7 716L916.4 695L917.0 700L917.7 717L918.3 730L919.0 723L919.6 749L920.3 752L920.9 773L921.6 760L922.2 763L922.9 777L923.5 746L924.2 767L924.8 779L925.5 810L926.1 814L926.8 787L927.4 766L928.1 827L928.7 817L929.4 828L930.0 845L930.7 818L931.4 845L932.0 852L932.7 819L933.3 854L934.0 907L934.6 831L935.3 838L935.9 861L936.6 903L937.2 853L937.9 884L938.5 876L939.2 855L939.8 844L940.5 802L941.1 819L941.8 803L942.4 817L943.1 786L943.7 834L944.4 765L945.0 765L945.7 755L946.3 747L947.0 753L947.7 782L948.3 735L949.0 741L949.6 758L950.3 749L950.9 736L951.6 746L952.2 728L952.9 716L953.5 743L954.2 748L954.8 703L955.5 713L956.1 698L956.8 718L957.4 674L958.1 679L958.7 682L959.4 678L960.0 666L960.7 663L961.3 658L962.0 661L962.6 636L963.3 641L964.0 635L964.6 630L965.3 643L965.9 618L966.6 619L967.2 614L967.9 607L968.5 608L969.2 594L969.8 597L970.5 593L971.1 588L971.8 579L972.4 572L973.1 572L973.7 571L974.4 557L975.0 559L975.7 547L976.3 547L977.0 543L977.6 538L978.3 529L978.9 523L979.6 520L980.3 513L980.9 505L981.6 505L982.2 502L982.9 498L983.5 494L984.2 489L984.8 485L985.5 482L986.1 475L986.8 475L987.4 469L988.1 461L988.7 458L989.4 455L990.0 451L990.7 445L991.3 442L992.0 439L992.6 436L993.3 431L993.9 427L994.6 423L995.2 419L995.9 414L996.6 411L997.2 406L997.9 404L998.5 400L999.2 395L999.8 393L1000.5 389L1001.1 386L1001.8 383L1002.4 382L1003.1 381L1003.7 378L1004.4 376L1005.0 375L1005.7 372L1006.3 370L1007.0 369L1007.6 366L1008.3 364L1008.9 362L1009.6 360L1010.2 358L1010.9 356L1011.5 354L1012.2 352L1012.9 350L1013.5 348L1014.2 346L1014.8 345L1015.5 344L1016.1 343L1016.8 341L1017.4 340L1018.1 338L1018.7 338L1019.4 337L1020.0 335L1020.7 334L1021.3 333L1022.0 333L1022.6 332L1023.3 332L1023.9 331L1024.6 330L1025.2 330L1025.9 330L1026.5 330L1027.2 331L1027.8 330L1028.5 331L1029.2 331L1029.8 332L1030.5 333L1031.1 332L1031.8 334L1032.4 334L1033.1 335L1033.7 336L1034.4 337L1035.0 340L1035.7 340L1036.3 341L1037.0 344L1037.6 345L1038.3 347L1038.9 348L1039.6 350L1040.2 350L1040.9 353L1041.5 355L1042.2 355L1042.8 357L1043.5 359L1044.1 360L1044.8 362L1045.5 364L1046.1 365L1046.8 367L1047.4 368L1048.1 371L1048.7 373L1049.4 375L1050.0 376L1050.7 377L1051.3 380L1052.0 382L1052.6 383L1053.3 385L1053.9 387L1054.6 390L1055.2 391L1055.9 393L1056.5 394L1057.2 396L1057.8 396L1058.5 398L1059.1 400L1059.8 402L1060.4 403L1061.1 404L1061.8 408L1062.4 407L1063.1 408L1063.7 410L1064.4 410L1065.0 412L1065.7 412L1066.3 413L1067.0 415L1067.6 414L1068.3 415L1068.9 415L1069.6 417L1070.2 417L1070.9 417L1071.5 416L1072.2 417L1072.8 416L1073.5 417L1074.1 415L1074.8 416L1075.4 414L1076.1 414L1076.7 414L1077.4 412L1078.1 410L1078.7 412L1079.4 411L1080.0 409L1080.7 409L1081.3 407L1082.0 407L1082.6 407L1083.3 406L1083.9 404L1084.6 404L1085.2 403L1085.9 402L1086.5 402L1087.2 400L1087.8 397L1088.5 396L1089.1 395L1089.8 394L1090.4 393L1091.1 391L1091.7 391L1092.4 389L1093.0 388L1093.7 387L1094.4 385L1095.0 385L1095.7 384L1096.3 383L1097.0 383L1097.6 382L1098.3 383L1098.9 383L1099.6 382L1100.2 382L1100.9 382L1101.5 383L1102.2 383L1102.8 385L1103.5 386L1104.1 388L1104.8 390L1105.4 392L1106.1 393L1106.7 394L1107.4 398L1108.0 398L1108.7 401L1109.3 405L1110.0 408L1110.7 411L1111.3 415L1112.0 417L1112.6 421L1113.3 427L1113.9 430L1114.6 434L1115.2 442L1115.9 447L1116.5 454L1117.2 456L1117.8 465L1118.5 471L1119.1 479L1119.8 485L1120.4 492L1121.1 493L1121.7 497L1122.4 507L1123.0 513L1123.7 521L1124.3 529L1125.0 537L1125.6 543L1126.3 550L1127.0 558L1127.6 565L1128.3 582L1128.9 590L1129.6 592L1130.2 606L1130.9 618L1131.5 649L1132.2 667L1132.8 657L1133.5 672L1134.1 690L1134.8 702L1135.4 732L1136.1 712L1136.7 711L1137.4 709L1138.0 739L1138.7 750L1139.3 774L1140.0 737L1140.6 732L1141.3 756L1141.9 797L1142.6 797L1143.3 744L1143.9 806L1144.6 813L1145.2 831L1145.9 828L1146.5 800L1147.2 784L1147.8 766L1148.5 760L1149.1 816L1149.8 805L1150.4 817L1151.1 814L1151.7 782L1152.4 827L1153.0 798L1153.7 791L1154.3 841L1155.0 853L1155.6 896L1156.3 822L1156.9 811L1157.6 831L1158.2 883L1158.9 829L1159.6 899L1160.2 822L1160.9 810L1161.5 893L1162.2 854L1162.8 879L1163.5 904L1164.1 827L1164.8 916L1165.4 844L1166.1 852L1166.7 981L1167.4 847L1168.0 925L1168.7 931L1169.3 919L1170.0 933L1170.6 933L1171.3 875L1171.9 971L1172.6 1028L1173.2 884L1173.9 954L1174.5 932L1175.2 1051L1175.9 910L1176.5 925L1177.2 923L1177.8 873L1178.5 1156L1179.1 960L1179.8 1213L1180.4 1015L1181.1 939L1181.7 906L1182.4 1072L1183.0 896L1183.7 894L1184.3 896L1185.0 1023L1185.6 966L1186.3 1018L1186.9 1226L1187.6 1138L1188.2 926L1188.9 1226L1189.5 1054L1190.2 974L1190.8 1082L1191.5 1010L1192.2 1021" stroke="#000" stroke-width="4.8" stroke-linejoin="round"/>
<path d="M197.2 1178L197.9 1352L198.5 1160L199.2 1352L199.8 940L200.5 1352L201.1 982L201.8 1352L202.4 977L203.1 1352L203.7 1164L204.4 1352L205.0 1239L205.7 1352L206.3 1017L207.0 1352L207.6 1186L208.3 1352L208.9 1102L209.6 1352L210.2 1352L210.9 1352L211.5 1352L212.2 1352L212.8 1352L213.5 1352L214.2 1352L214.8 1352L215.5 1155L216.1 1352L216.8 1194L217.4 1352L218.1 1089L218.7 1352L219.4 1127L220.0 1352L220.7 1238L221.3 1352L222.0 1273L222.6 1352L223.3 1027L223.9 1352L224.6 1013L225.2 1352L225.9 1155L226.5 1352L227.2 1202L227.8 1352L228.5 979L229.1 1352L229.8 1236L230.5 1352L231.1 1273L231.8 1352L232.4 881L233.1 1352L233.7 1158L234.4 1352L235.0 957L235.7 1352L236.3 1241L237.0 1352L237.6 1112L238.3 1352L238.9 1008L239.6 1352L240.2 990L240.9 1352L241.5 950L242.2 1352L242.8 1112L243.5 1352L244.1 1195L244.8 1352L245.4 1094L246.1 1352L246.8 1174L247.4 1352L248.1 981L248.7 1352L249.4 1285L250.0 1352L250.7 936L251.3 1352L252.0 1103L252.6 1352L253.3 1228L253.9 1352L254.6 1190L255.2 1352L255.9 936L256.5 1352L257.2 1209L257.8 1352L258.5 1067L259.1 1352L259.8 976L260.4 1352L261.1 935L261.7 1352L262.4 1096L263.1 1352L263.7 1041L264.4 1352L265.0 1074L265.7 1352L266.3 1293L267.0 1352L267.6 979L268.3 1352L268.9 1033L269.6 1352L270.2 1209L270.9 1352L271.5 1037L272.2 1352L272.8 1015L273.5 1352L274.1 1048L274.8 1352L275.4 1027L276.1 1352L276.7 1271L277.4 1352L278.0 1139L278.7 1352L279.4 904L280.0 1352L280.7 1119L281.3 1352L282.0 1218L282.6 1352L283.3 1004L283.9 1352L284.6 1114L285.2 1352L285.9 1016L286.5 1352L287.2 1186L287.8 1352L288.5 1100L289.1 1352L289.8 933L290.4 1352L291.1 1002L291.7 1352L292.4 1283L293.0 1352L293.7 895L294.3 1352L295.0 1019L295.7 1352L296.3 1209L297.0 1352L297.6 1084L298.3 1352L298.9 1122L299.6 1352L300.2 1082L300.9 1352L301.5 1067L302.2 1352L302.8 1185L303.5 1352L304.1 1294L304.8 1352L305.4 1093L306.1 1352L306.7 996L307.4 1352L308.0 1171L308.7 1352L309.3 1107L310.0 1352L310.6 1169L311.3 1352L312.0 1054L312.6 1352L313.3 1034L313.9 1352L314.6 1006L315.2 1352L315.9 1247L316.5 1352L317.2 1197L317.8 1352L318.5 1014L319.1 1352L319.8 912L320.4 1352L321.1 1017L321.7 1352L322.4 963L323.0 1352L323.7 1236L324.3 1352L325.0 1207L325.6 1352L326.3 1179L326.9 1352L327.6 1171L328.3 1352L328.9 1019L329.6 1352L330.2 1030L330.9 1352L331.5 1139L332.2 1352L332.8 1229L333.5 1352L334.1 1091L334.8 1352L335.4 1012L336.1 1352L336.7 1158L337.4 1352L338.0 1278L338.7 1352L339.3 1107L340.0 1352L340.6 1134L341.3 1352L341.9 1026L342.6 1352L343.2 979L343.9 1352L344.6 1198L345.2 1352L345.9 1352L346.5 1352L347.2 1352L347.8 1352L348.5 1352L349.1 1352L349.8 1352L350.4 1352L351.1 1227L351.7 1352L352.4 946L353.0 1352L353.7 1135L354.3 1352L355.0 1260L355.6 1352L356.3 1094L356.9 1352L357.6 1014L358.2 1352L358.9 1204L359.5 1352L360.2 1226L360.9 1352L361.5 1228L362.2 1352L362.8 958L363.5 1352L364.1 982L364.8 1352L365.4 1248L366.1 1352L366.7 977L367.4 1352L368.0 990L368.7 1352L369.3 1106L370.0 1352L370.6 997L371.3 1352L371.9 1002L372.6 1352L373.2 925L373.9 1352L374.5 1140L375.2 1352L375.8 990L376.5 1352L377.2 979L377.8 1352L378.5 1106L379.1 1352L379.8 1178L380.4 1352L381.1 1055L381.7 1352L382.4 1198L383.0 1352L383.7 1013L384.3 1352L385.0 1197L385.6 1352L386.3 1188L386.9 1352L387.6 962L388.2 1352L388.9 1281L389.5 1352L390.2 986L390.8 1352L391.5 1004L392.1 1352L392.8 997L393.5 1352L394.1 1155L394.8 1352L395.4 1267L396.1 1352L396.7 971L397.4 1352L398.0 1051L398.7 1352L399.3 1200L400.0 1352L400.6 961L401.3 1352L401.9 1049L402.6 1352L403.2 1026L403.9 1352L404.5 995L405.2 1352L405.8 1352L406.5 1352L407.1 1352L407.8 1352L408.4 1352L409.1 1352L409.8 1082L410.4 1352L411.1 1149L411.7 1352L412.4 983L413.0 1352L413.7 1278L414.3 1352L415.0 1040L415.6 1352L416.3 1170L416.9 1352L417.6 1016L418.2 1352L418.9 1116L419.5 1352L420.2 1046L420.8 1352L421.5 1026L422.1 1352L422.8 1131L423.4 1352L424.1 1285L424.7 1352L425.4 1071L426.1 1352L426.7 1211L427.4 1352L428.0 1059L428.7 1352L429.3 1139L430.0 1352L430.6 1079L431.3 1352L431.9 1110L432.6 1352L433.2 1105L433.9 1352L434.5 1246L435.2 1352L435.8 1192L436.5 1352L437.1 1289L437.8 1352L438.4 1022L439.1 1352L439.7 1131L440.4 1352L441.0 1090L441.7 1352L442.4 951L443.0 1352L443.7 1159L444.3 1352L445.0 1023L445.6 1352L446.3 888L446.9 1352L447.6 1174L448.2 1352L448.9 1100L449.5 1352L450.2 1067L450.8 1352L451.5 1180L452.1 1352L452.8 1020L453.4 1352L454.1 1040L454.7 1352L455.4 989L456.0 1352L456.7 1295L457.3 1352L458.0 1070L458.7 1352L459.3 1044L460.0 1352L460.6 1282L461.3 1352L461.9 1272L462.6 1352L463.2 1265L463.9 1352L464.5 1153L465.2 1352L465.8 1143L466.5 1352L467.1 1240L467.8 1352L468.4 1196L469.1 1352L469.7 1140L470.4 1352L471.0 989L471.7 1352L472.3 1051L473.0 1352L473.6 1018L474.3 1352L475.0 1053L475.6 1352L476.3 1130L476.9 1352L477.6 1259L478.2 1352L478.9 1026L479.5 1352L480.2 1052L480.8 1352L481.5 1083L482.1 1352L482.8 1294L483.4 1352L484.1 1159L484.7 1352L485.4 1033L486.0 1352L486.7 1194L487.3 1352L488.0 1230L488.6 1352L489.3 979L489.9 1352L490.6 1100L491.3 1352L491.9 1064L492.6 1352L493.2 976L493.9 1352L494.5 1192L495.2 1352L495.8 1016L496.5 1352L497.1 1073L497.8 1352L498.4 1178L499.1 1352L499.7 992L500.4 1352L501.0 1025L501.7 1352L502.3 968L503.0 1352L503.6 1031L504.3 1352L504.9 1284L505.6 1352L506.2 1239L506.9 1352L507.6 1000L508.2 1352L508.9 1277L509.5 1352L510.2 1221L510.8 1352L511.5 1010L512.1 1352L512.8 1209L513.4 1352L514.1 940L514.7 1352L515.4 1259L516.0 1352L516.7 1141L517.3 1352L518.0 1089L518.6 1352L519.3 1028L519.9 1352L520.6 994L521.2 1352L521.9 1023L522.5 1352L523.2 1025L523.9 1352L524.5 1123L525.2 1352L525.8 1022L526.5 1352L527.1 960L527.8 1352L528.4 1013L529.1 1352L529.7 1098L530.4 1352L531.0 997L531.7 1352L532.3 1195L533.0 1352L533.6 1243L534.3 1352L534.9 1177L535.6 1352L536.2 1256L536.9 1352L537.5 925L538.2 1352L538.8 1252L539.5 1352L540.2 1143L540.8 1352L541.5 1197L542.1 1352L542.8 984L543.4 1352L544.1 1016L544.7 1352L545.4 1283L546.0 1352L546.7 946L547.3 1352L548.0 1195L548.6 1352L549.3 1284L549.9 1352L550.6 1034L551.2 1352L551.9 987L552.5 1352L553.2 956L553.8 1352L554.5 931L555.1 1352L555.8 966L556.5 1352L557.1 1182L557.8 1352L558.4 933L559.1 1352L559.7 993L560.4 1352L561.0 1278L561.7 1352L562.3 1023L563.0 1352L563.6 1009L564.3 1352L564.9 951L565.6 1352L566.2 1182L566.9 1352L567.5 1014L568.2 1352L568.8 1170L569.5 1352L570.1 1133L570.8 1352L571.4 988L572.1 1352L572.8 1008L573.4 1352L574.1 1220L574.7 1352L575.4 1132L576.0 1352L576.7 960L577.3 1352L578.0 1138L578.6 1352L579.3 1068L579.9 1352L580.6 976L581.2 1352L581.9 1288L582.5 1352L583.2 1020L583.8 1352L584.5 1185L585.1 1352L585.8 1075L586.4 1352L587.1 1196L587.7 1352L588.4 1080L589.1 1352L589.7 1234L590.4 1352L591.0 1178L591.7 1352L592.3 1171L593.0 1352L593.6 1128L594.3 1352L594.9 1136L595.6 1352L596.2 1266L596.9 1352L597.5 1229L598.2 1352L598.8 1143L599.5 1352L600.1 1150L600.8 1352L601.4 1103L602.1 1352L602.7 1126L603.4 1352L604.0 1128L604.7 1352L605.4 1106L606.0 1352L606.7 1281L607.3 1352L608.0 1031L608.6 1352L609.3 1198L609.9 1352L610.6 1022L611.2 1352L611.9 1058L612.5 1352L613.2 1352L613.8 1352L614.5 1352L615.1 1352L615.8 1352L616.4 1352L617.1 1279L617.7 1352L618.4 968L619.0 1352L619.7 1227L620.3 1352L621.0 1009L621.7 1352L622.3 979L623.0 1352L623.6 1014L624.3 1352L624.9 1147L625.6 1352L626.2 1114L626.9 1352L627.5 1026L628.2 1352L628.8 996L629.5 1352L630.1 1274L630.8 1352L631.4 1174L632.1 1352L632.7 1124L633.4 1352L634.0 1140L634.7 1352L635.3 1128L636.0 1352L636.6 1255L637.3 1352L638.0 1205L638.6 1352L639.3 1009L639.9 1352L640.6 1283L641.2 1352L641.9 1119L642.5 1352L643.2 1111L643.8 1352L644.5 1042L645.1 1352L645.8 982L646.4 1352L647.1 1010L647.7 1352L648.4 1017L649.0 1352L649.7 993L650.3 1352L651.0 1143L651.6 1352L652.3 1168L652.9 1352L653.6 1023L654.3 1352L654.9 1001L655.6 1352L656.2 987L656.9 1352L657.5 1137L658.2 1352L658.8 1181L659.5 1352L660.1 1084L660.8 1352L661.4 1013L662.1 1352L662.7 1155L663.4 1352L664.0 1231L664.7 1352L665.3 1127L666.0 1352L666.6 1252L667.3 1352L667.9 1103L668.6 1352L669.2 1225L669.9 1352L670.6 987L671.2 1352L671.9 1163L672.5 1352L673.2 1158L673.8 1352L674.5 1004L675.1 1352L675.8 1109L676.4 1352L677.1 1213L677.7 1352L678.4 1158L679.0 1352L679.7 1243L680.3 1352L681.0 1237L681.6 1352L682.3 1169L682.9 1352L683.6 1229L684.2 1352L684.9 1192L685.5 1352L686.2 1228L686.9 1352L687.5 1012L688.2 1352L688.8 1254L689.5 1352L690.1 1025L690.8 1352L691.4 1104L692.1 1352L692.7 1032L693.4 1352L694.0 993L694.7 1352L695.3 1066L696.0 1352L696.6 1014L697.3 1352L697.9 1172L698.6 1352L699.2 1268L699.9 1352L700.5 1149L701.2 1352L701.8 1281L702.5 1352L703.2 1151L703.8 1352L704.5 1177L705.1 1352L705.8 1155L706.4 1352L707.1 954L707.7 1352L708.4 1222L709.0 1352L709.7 1105L710.3 1352L711.0 1220L711.6 1352L712.3 1004L712.9 1352L713.6 963L714.2 1352L714.9 1031L715.5 1352L716.2 1087L716.8 1352L717.5 1015L718.1 1352L718.8 1021L719.5 1352L720.1 1031L720.8 1352L721.4 1049L722.1 1352L722.7 1200L723.4 1352L724.0 1102L724.7 1352L725.3 941L726.0 1352L726.6 1014L727.3 1352L727.9 1242L728.6 1352L729.2 1182L729.9 1352L730.5 1004L731.2 1352L731.8 1174L732.5 1352L733.1 1078L733.8 1352L734.4 1079L735.1 1352L735.8 1126L736.4 1352L737.1 1092L737.7 1352L738.4 1197L739.0 1352L739.7 1001L740.3 1352L741.0 1262L741.6 1352L742.3 1110L742.9 1352L743.6 1207L744.2 1352L744.9 1144L745.5 1352L746.2 940L746.8 1352L747.5 1096L748.1 1352L748.8 1209L749.4 1352L750.1 971L750.7 1352L751.4 998L752.1 1352L752.7 1011L753.4 1352L754.0 1141L754.7 1352L755.3 984L756.0 1352L756.6 1013L757.3 1352L757.9 1016L758.6 1352L759.2 1176L759.9 1352L760.5 1060L761.2 1352L761.8 1072L762.5 1352L763.1 1149L763.8 1352L764.4 958L765.1 1352L765.7 1025L766.4 1352L767.0 1352L767.7 1352L768.4 1352L769.0 1352L769.7 1352L770.3 1352L771.0 1102L771.6 1352L772.3 1203L772.9 1352L773.6 1122L774.2 1352L774.9 1224L775.5 1352L776.2 1164L776.8 1352L777.5 1102L778.1 1352L778.8 1155L779.4 1352L780.1 1170L780.7 1352L781.4 1106L782.0 1352L782.7 1122L783.3 1352L784.0 1123L784.7 1352L785.3 1231L786.0 1352L786.6 957L787.3 1352L787.9 1117L788.6 1352L789.2 1267L789.9 1352L790.5 1033L791.2 1352L791.8 1040L792.5 1352L793.1 1105L793.8 1352L794.4 1082L795.1 1352L795.7 1147L796.4 1352L797.0 1092L797.7 1352L798.3 1218L799.0 1352L799.6 1249L800.3 1352L801.0 994L801.6 1352L802.3 1246L802.9 1352L803.6 1251L804.2 1352L804.9 1056L805.5 1352L806.2 1080L806.8 1352L807.5 1272L808.1 1352L808.8 996L809.4 1352L810.1 1287L810.7 1352L811.4 1317L812.0 1352L812.7 1296L813.3 1352L814.0 1158L814.6 1352L815.3 1093L815.9 1352L816.6 1025L817.3 1352L817.9 1030L818.6 1352L819.2 1175L819.9 1352L820.5 1054L821.2 1352L821.8 976L822.5 1352L823.1 1072L823.8 1352L824.4 1084L825.1 1352L825.7 1148L826.4 1352L827.0 1079L827.7 1352L828.3 1126L829.0 1352L829.6 1286L830.3 1352L830.9 1130L831.6 1352L832.2 971L832.9 1352L833.6 1264L834.2 1352L834.9 1124L835.5 1352L836.2 1070L836.8 1352L837.5 1110L838.1 1352L838.8 1265L839.4 1352L840.1 1184L840.7 1352L841.4 1112L842.0 1352L842.7 1079L843.3 1352L844.0 1200L844.6 1352L845.3 1125L845.9 1352L846.6 979L847.2 1352L847.9 1250L848.5 1352L849.2 1067L849.9 1352L850.5 1294L851.2 1352L851.8 1234L852.5 1352L853.1 1241L853.8 1352L854.4 913L855.1 1352L855.7 1166L856.4 1352L857.0 1211L857.7 1352L858.3 1077L859.0 1352L859.6 1162L860.3 1352L860.9 1189L861.6 1352L862.2 1119L862.9 1352L863.5 1168L864.2 1352L864.8 1290L865.5 1352L866.2 1129L866.8 1352L867.5 1099L868.1 1352L868.8 1136L869.4 1352L870.1 994L870.7 1352L871.4 1277L872.0 1352L872.7 1089L873.3 1352L874.0 1212L874.6 1352L875.3 1097L875.9 1352L876.6 1157L877.2 1352L877.9 1281L878.5 1352L879.2 1101L879.8 1352L880.5 1138L881.1 1352L881.8 1100L882.5 1352L883.1 1075L883.8 1352L884.4 1064L885.1 1352L885.7 1197L886.4 1352L887.0 1172L887.7 1352L888.3 1239L889.0 1352L889.6 1078L890.3 1352L890.9 1113L891.6 1352L892.2 1254L892.9 1352L893.5 972L894.2 1352L894.8 1122L895.5 1352L896.1 1069L896.8 1352L897.4 1200L898.1 1352L898.8 1167L899.4 1352L900.1 976L900.7 1352L901.4 1159L902.0 1352L902.7 1038L903.3 1352L904.0 1056L904.6 1352L905.3 1109L905.9 1352L906.6 1111L907.2 1352L907.9 903L908.5 1352L909.2 1264L909.8 1352L910.5 1052L911.1 1352L911.8 1238L912.4 1352L913.1 1060L913.7 1352L914.4 1175L915.1 1352L915.7 1013L916.4 1352L917.0 1278L917.7 1352L918.3 1043L919.0 1352L919.6 1265L920.3 1352L920.9 1217L921.6 1352L922.2 1220L922.9 1352L923.5 1151L924.2 1352L924.8 1037L925.5 1352L926.1 1264L926.8 1352L927.4 1277L928.1 1352L928.7 1046L929.4 1352L930.0 1027L930.7 1352L931.4 1165L932.0 1352L932.7 1082L933.3 1352L934.0 1248L934.6 1352L935.3 1087L935.9 1352L936.6 1129L937.2 1352L937.9 1229L938.5 1352L939.2 1102L939.8 1352L940.5 1038L941.1 1352L941.8 1092L942.4 1352L943.1 1104L943.7 1352L944.4 1048L945.0 1352L945.7 1012L946.3 1352L947.0 1259L947.7 1352L948.3 1120L949.0 1352L949.6 1102L950.3 1352L950.9 1203L951.6 1352L952.2 1102L952.9 1352L953.5 1182L954.2 1352L954.8 1218L955.5 1352L956.1 1179L956.8 1352L957.4 1053L958.1 1352L958.7 1108L959.4 1352L960.0 1311L960.7 1352L961.3 1144L962.0 1352L962.6 1134L963.3 1352L964.0 1202L964.6 1352L965.3 1120L965.9 1352L966.6 1100L967.2 1352L967.9 994L968.5 1352L969.2 1095L969.8 1352L970.5 1114L971.1 1352L971.8 1083L972.4 1352L973.1 1254L973.7 1352L974.4 1235L975.0 1352L975.7 1270L976.3 1352L977.0 1084L977.6 1352L978.3 1145L978.9 1352L979.6 1064L980.3 1352L980.9 1197L981.6 1352L982.2 1100L982.9 1352L983.5 1143L984.2 1352L984.8 1319L985.5 1352L986.1 1122L986.8 1352L987.4 928L988.1 1352L988.7 1256L989.4 1352L990.0 1352L990.7 1352L991.3 1352L992.0 1352L992.6 1352L993.3 1352L993.9 1352L994.6 1352L995.2 1217L995.9 1352L996.6 1202L997.2 1352L997.9 1272L998.5 1352L999.2 1148L999.8 1352L1000.5 1072L1001.1 1352L1001.8 1303L1002.4 1352L1003.1 1076L1003.7 1352L1004.4 1098L1005.0 1352L1005.7 1099L1006.3 1352L1007.0 1128L1007.6 1352L1008.3 1130M1075.4 1030L1076.1 1123L1076.7 1352L1077.4 1129L1078.1 1352L1078.7 950L1079.4 1352L1080.0 1165L1080.7 1352L1081.3 1257L1082.0 1352L1082.6 1289L1083.3 1352L1083.9 1135L1084.6 1352L1085.2 1105L1085.9 1352L1086.5 1073L1087.2 1352L1087.8 945L1088.5 1352L1089.1 1204L1089.8 1352L1090.4 1263L1091.1 1352L1091.7 930L1092.4 1352L1093.0 1157L1093.7 1352L1094.4 1246L1095.0 1352L1095.7 1082L1096.3 1352L1097.0 1190L1097.6 1352L1098.3 1019L1098.9 1352L1099.6 1130L1100.2 1352L1100.9 1104L1101.5 1352L1102.2 1149L1102.8 1352L1103.5 1086L1104.1 1352L1104.8 1159L1105.4 1352L1106.1 1099L1106.7 1352L1107.4 1061L1108.0 1352L1108.7 961L1109.3 1352L1110.0 1052L1110.7 1352L1111.3 1072L1112.0 1352L1112.6 986L1113.3 1352L1113.9 1240L1114.6 1352L1115.2 1128L1115.9 1352L1116.5 1070L1117.2 1352L1117.8 1232L1118.5 1352L1119.1 1191L1119.8 1352L1120.4 1166L1121.1 1352L1121.7 1291L1122.4 1352L1123.0 1180L1123.7 1352L1124.3 1204L1125.0 1352L1125.6 1032L1126.3 1352L1127.0 1161L1127.6 1352L1128.3 1053L1128.9 1352L1129.6 1243L1130.2 1352L1130.9 1287L1131.5 1352L1132.2 1078L1132.8 1352L1133.5 1052L1134.1 1352L1134.8 1164L1135.4 1352L1136.1 1203L1136.7 1352L1137.4 958L1138.0 1352L1138.7 1280L1139.3 1352L1140.0 1042L1140.6 1352L1141.3 1282L1141.9 1352L1142.6 1319L1143.3 1352L1143.9 1302L1144.6 1352L1145.2 1070L1145.9 1352L1146.5 1178L1147.2 1352L1147.8 1095L1148.5 1352L1149.1 1213L1149.8 1352L1150.4 1028L1151.1 1352L1151.7 1235L1152.4 1352L1153.0 1055L1153.7 1352L1154.3 1013L1155.0 1352L1155.6 1031L1156.3 1352L1156.9 1040L1157.6 1352L1158.2 1092L1158.9 1352L1159.6 1021L1160.2 1352L1160.9 1259L1161.5 1352L1162.2 1110L1162.8 1352L1163.5 1223L1164.1 1352L1164.8 1064L1165.4 1352L1166.1 1083L1166.7 1352L1167.4 1211L1168.0 1352L1168.7 1004L1169.3 1352L1170.0 1064L1170.6 1352L1171.3 1327L1171.9 1352L1172.6 1074L1173.2 1352L1173.9 1236L1174.5 1352L1175.2 1322L1175.9 1352L1176.5 1083L1177.2 1352L1177.8 1098L1178.5 1352L1179.1 1149L1179.8 1352L1180.4 1208L1181.1 1352L1181.7 1299L1182.4 1352L1183.0 1125L1183.7 1352L1184.3 1312L1185.0 1352L1185.6 1095L1186.3 1352L1186.9 1098L1187.6 1352L1188.2 1293L1188.9 1352L1189.5 1101L1190.2 1352L1190.8 1172L1191.5 1352L1192.2 1174L1192.8 1352L1193.5 1134L1194.1 1352L1194.8 1295L1195.4 1352L1196.1 1098L1196.7 1352L1197.4 1044L1198.0 1352L1198.7 1352L1199.3 1352L1200.0 1352L1200.6 1352L1201.3 1352L1201.9 1352L1202.6 1089L1203.2 1352L1203.9 1133L1204.5 1352L1205.2 1094L1205.8 1352L1206.5 1011L1207.1 1352L1207.8 1235L1208.5 1352L1209.1 1138L1209.8 1352L1210.4 1096L1211.1 1352L1211.7 1213L1212.4 1352L1213.0 1056L1213.7 1352L1214.3 1065L1215.0 1352L1215.6 1149L1216.3 1352L1216.9 1292L1217.6 1352L1218.2 1138L1218.9 1352L1219.5 1027L1220.2 1352L1220.8 1010L1221.5 1352L1222.1 1281L1222.8 1352L1223.4 1270L1224.1 1352L1224.8 1105L1225.4 1352L1226.1 1288L1226.7 1352L1227.4 1101L1228.0 1352L1228.7 1271L1229.3 1352L1230.0 1218L1230.6 1352L1231.3 1090L1231.9 1352L1232.6 1212L1233.2 1352L1233.9 1166L1234.5 1352L1235.2 1013L1235.8 1352L1236.5 1113L1237.1 1352L1237.8 1098L1238.4 1352L1239.1 1267L1239.7 1352L1240.4 1151L1241.1 1352L1241.7 1101L1242.4 1352L1243.0 1169L1243.7 1352L1244.3 1035L1245.0 1352L1245.6 1079L1246.3 1352L1246.9 1054L1247.6 1352L1248.2 1040L1248.9 1352L1249.5 1037L1250.2 1352L1250.8 1061L1251.5 1352L1252.1 1212L1252.8 1352L1253.4 1070L1254.1 1352L1254.7 1113L1255.4 1352L1256.0 1055L1256.7 1352L1257.4 1090L1258.0 1352L1258.7 1160L1259.3 1352L1260.0 1150L1260.6 1352L1261.3 1352L1261.9 1352L1262.6 1352L1263.2 1352L1263.9 1352L1264.5 1352L1265.2 1352L1265.8 1352L1266.5 1040L1267.1 1352L1267.8 1272L1268.4 1352L1269.1 1199L1269.7 1352L1270.4 1265L1271.0 1352L1271.7 1152L1272.3 1352L1273.0 1006L1273.7 1352L1274.3 1073L1275.0 1352L1275.6 1127L1276.3 1352L1276.9 1282L1277.6 1352L1278.2 1028L1278.9 1352L1279.5 1021L1280.2 1352L1280.8 1058L1281.5 1352L1282.1 960L1282.8 1352L1283.4 986L1284.1 1352L1284.7 1125L1285.4 1352L1286.0 1037L1286.7 1352L1287.3 1061L1288.0 1352L1288.6 1001L1289.3 1352L1290.0 1023L1290.6 1352L1291.3 988L1291.9 1352L1292.6 1249L1293.2 1352L1293.9 957L1294.5 1352L1295.2 1039L1295.8 1352L1296.5 1279L1297.1 1352L1297.8 1171L1298.4 1352L1299.1 1008L1299.7 1352L1300.4 1091L1301.0 1352L1301.7 1103L1302.3 1352L1303.0 1046L1303.6 1352L1304.3 1117L1304.9 1352L1305.6 1224L1306.3 1352L1306.9 1095L1307.6 1352L1308.2 1063L1308.9 1352L1309.5 1196L1310.2 1352L1310.8 1052L1311.5 1352L1312.1 1066L1312.8 1352L1313.4 1050L1314.1 1352L1314.7 1059L1315.4 1352L1316.0 1185L1316.7 1352L1317.3 1042L1318.0 1352L1318.6 1132L1319.3 1352L1319.9 1186L1320.6 1352L1321.2 1116L1321.9 1352L1322.6 1206L1323.2 1352L1323.9 1106L1324.5 1352L1325.2 1078L1325.8 1352L1326.5 1276L1327.1 1352L1327.8 1139L1328.4 1352L1329.1 1126L1329.7 1352L1330.4 925L1331.0 1352L1331.7 1090L1332.3 1352L1333.0 1047L1333.6 1352L1334.3 1047L1334.9 1352L1335.6 1046L1336.2 1352L1336.9 1220L1337.5 1352L1338.2 1086L1338.9 1352L1339.5 1153L1340.2 1352L1340.8 1121L1341.5 1352L1342.1 1281L1342.8 1352L1343.4 1202L1344.1 1352L1344.7 1161L1345.4 1352L1346.0 1102L1346.7 1352L1347.3 1039L1348.0 1352L1348.6 1192L1349.3 1352L1349.9 1037L1350.6 1352L1351.2 1089L1351.9 1352L1352.5 1052L1353.2 1352L1353.8 1046L1354.5 1352L1355.2 1233L1355.8 1352L1356.5 1040L1357.1 1352L1357.8 1181L1358.4 1352L1359.1 1194L1359.7 1352L1360.4 1143L1361.0 1352L1361.7 1209L1362.3 1352L1363.0 1242L1363.6 1352L1364.3 1122L1364.9 1352L1365.6 1185L1366.2 1352L1366.9 1148L1367.5 1352L1368.2 1096L1368.8 1352L1369.5 1227L1370.1 1352L1370.8 1205L1371.5 1352L1372.1 1188L1372.8 1352L1373.4 1159L1374.1 1352L1374.7 1240L1375.4 1352L1376.0 1237L1376.7 1352L1377.3 1141L1378.0 1352L1378.6 1070L1379.3 1352L1379.9 1156L1380.6 1352L1381.2 1031L1381.9 1352L1382.5 1113L1383.2 1352L1383.8 1078L1384.5 1352L1385.1 1214L1385.8 1352L1386.4 1352L1387.1 1352L1387.8 1352L1388.4 1352L1389.1 1352L1389.7 1352L1390.4 1128L1391.0 1352L1391.7 1181L1392.3 1352L1393.0 969L1393.6 1352L1394.3 1149L1394.9 1352L1395.6 1068L1396.2 1352L1396.9 1120L1397.5 1352L1398.2 1173L1398.8 1352L1399.5 1094L1400.1 1352L1400.8 1089L1401.4 1352L1402.1 1292L1402.7 1352L1403.4 1025L1404.1 1352L1404.7 1054L1405.4 1352L1406.0 999L1406.7 1352L1407.3 1080L1408.0 1352L1408.6 1085L1409.3 1352L1409.9 1155L1410.6 1352L1411.2 1081L1411.9 1352L1412.5 1099L1413.2 1352L1413.8 1071L1414.5 1352L1415.1 1194L1415.8 1352L1416.4 1066L1417.1 1352L1417.7 1039L1418.4 1352L1419.0 1092L1419.7 1352L1420.4 1270L1421.0 1352L1421.7 1099L1422.3 1352L1423.0 1119L1423.6 1352L1424.3 1285L1424.9 1352L1425.6 1042L1426.2 1352L1426.9 997L1427.5 1352L1428.2 1200L1428.8 1352L1429.5 1261L1430.1 1352L1430.8 1352L1431.4 1352L1432.1 1352L1432.7 1352L1433.4 1352L1434.0 1352L1434.7 1079L1435.3 1352L1436.0 1068L1436.7 1352L1437.3 1116L1438.0 1352L1438.6 1206L1439.3 1352L1439.9 894L1440.6 1352L1441.2 1253L1441.9 1352L1442.5 1233L1443.2 1352L1443.8 999L1444.5 1352L1445.1 1175L1445.8 1352L1446.4 1232L1447.1 1352L1447.7 1243L1448.4 1352L1449.0 1025L1449.7 1352L1450.3 1295L1451.0 1352L1451.6 1128L1452.3 1352L1453.0 1004L1453.6 1352L1454.3 1043L1454.9 1352L1455.6 1048L1456.2 1352L1456.9 1130L1457.5 1352L1458.2 1061L1458.8 1352L1459.5 1204L1460.1 1352L1460.8 1037L1461.4 1352L1462.1 1041L1462.7 1352L1463.4 1065L1464.0 1352L1464.7 1039L1465.3 1352L1466.0 1168L1466.6 1352L1467.3 1114L1467.9 1352L1468.6 1281L1469.3 1352L1469.9 1177L1470.6 1352L1471.2 1092L1471.9 1352L1472.5 1056L1473.2 1352L1473.8 1120L1474.5 1352L1475.1 1135L1475.8 1352L1476.4 1215L1477.1 1352L1477.7 1141L1478.4 1352L1479.0 1293L1479.7 1352L1480.3 1133L1481.0 1352L1481.6 1228L1482.3 1352L1482.9 1280L1483.6 1352L1484.2 1266L1484.9 1352L1485.6 1294L1486.2 1352L1486.9 1223L1487.5 1352L1488.2 1157L1488.8 1352L1489.5 1182L1490.1 1352L1490.8 1055L1491.4 1352L1492.1 1057L1492.7 1352L1493.4 1254L1494.0 1352L1494.7 1039L1495.3 1352L1496.0 1223L1496.6 1352L1497.3 1074L1497.9 1352L1498.6 1132L1499.2 1352L1499.9 1084L1500.5 1352L1501.2 1179L1501.9 1352L1502.5 1263L1503.2 1352L1503.8 1046L1504.5 1352L1505.1 1118L1505.8 1352L1506.4 1137L1507.1 1352L1507.7 1023L1508.4 1352L1509.0 1069L1509.7 1352L1510.3 1038L1511.0 1352L1511.6 1200L1512.3 1352L1512.9 1197L1513.6 1352L1514.2 1135L1514.9 1352L1515.5 1051L1516.2 1352L1516.8 1068L1517.5 1352L1518.2 983L1518.8 1352L1519.5 1112L1520.1 1352L1520.8 1149L1521.4 1352L1522.1 1163L1522.7 1352L1523.4 1099L1524.0 1352L1524.7 1296L1525.3 1352L1526.0 1200L1526.6 1352L1527.3 1158L1527.9 1352L1528.6 1122L1529.2 1352L1529.9 1211L1530.5 1352L1531.2 1043L1531.8 1352L1532.5 1128L1533.1 1352L1533.8 1142L1534.5 1352L1535.1 1125L1535.8 1352L1536.4 1140L1537.1 1352L1537.7 1154L1538.4 1352L1539.0 1197L1539.7 1352L1540.3 1070L1541.0 1352L1541.6 1111L1542.3 1352L1542.9 1240L1543.6 1352L1544.2 1195L1544.9 1352L1545.5 1108L1546.2 1352L1546.8 1102L1547.5 1352L1548.1 1118L1548.8 1352L1549.4 1175L1550.1 1352L1550.8 999L1551.4 1352L1552.1 1080L1552.7 1352L1553.4 1255L1554.0 1352L1554.7 1018L1555.3 1352L1556.0 1016L1556.6 1352L1557.3 1087L1557.9 1352L1558.6 1048L1559.2 1352L1559.9 947L1560.5 1352L1561.2 1074L1561.8 1352L1562.5 1176L1563.1 1352L1563.8 1093L1564.4 1352L1565.1 1160L1565.7 1352L1566.4 1017L1567.1 1352L1567.7 1102L1568.4 1352L1569.0 1106L1569.7 1352L1570.3 1047L1571.0 1352L1571.6 1095L1572.3 1352L1572.9 1195L1573.6 1352L1574.2 1116L1574.9 1352L1575.5 1156L1576.2 1352L1576.8 1008L1577.5 1352L1578.1 1055L1578.8 1352L1579.4 1042L1580.1 1352L1580.7 1267L1581.4 1352L1582.0 1249L1582.7 1352L1583.4 1038L1584.0 1352L1584.7 1048L1585.3 1352L1586.0 1106L1586.6 1352L1587.3 1024L1587.9 1352L1588.6 1094L1589.2 1352L1589.9 1078L1590.5 1352L1591.2 1166L1591.8 1352L1592.5 1032L1593.1 1352L1593.8 1162L1594.4 1352L1595.1 1088L1595.7 1352L1596.4 1013L1597.0 1352L1597.7 1070L1598.3 1352L1599.0 1022L1599.7 1352L1600.3 1191L1601.0 1352L1601.6 1073L1602.3 1352L1602.9 1004L1603.6 1352L1604.2 1199L1604.9 1352L1605.5 1258L1606.2 1352L1606.8 1229L1607.5 1352L1608.1 1163L1608.8 1352L1609.4 1068L1610.1 1352L1610.7 1171L1611.4 1352L1612.0 1057L1612.7 1352L1613.3 1115L1614.0 1352L1614.6 1352L1615.3 1352L1616.0 1352L1616.6 1352L1617.3 1352L1617.9 1352L1618.6 1352L1619.2 1352L1619.9 1152L1620.5 1352L1621.2 1252L1621.8 1352L1622.5 1196L1623.1 1352L1623.8 1198L1624.4 1352L1625.1 1074L1625.7 1352L1626.4 1192L1627.0 1352L1627.7 1087L1628.3 1352L1629.0 1209L1629.6 1352L1630.3 1028L1630.9 1352L1631.6 1048L1632.3 1352L1632.9 1185L1633.6 1352L1634.2 1125L1634.9 1352L1635.5 1122L1636.2 1352L1636.8 1066L1637.5 1352L1638.1 1201L1638.8 1352L1639.4 1185L1640.1 1352L1640.7 1074L1641.4 1352L1642.0 1287L1642.7 1352L1643.3 1269L1644.0 1352L1644.6 1242L1645.3 1352L1645.9 958L1646.6 1352L1647.2 1010L1647.9 1352L1648.6 1134L1649.2 1352L1649.9 1274L1650.5 1352L1651.2 1154L1651.8 1352L1652.5 1030L1653.1 1352L1653.8 1070L1654.4 1352L1655.1 1053L1655.7 1352L1656.4 999L1657.0 1352L1657.7 1090L1658.3 1352L1659.0 1082L1659.6 1352L1660.3 1085L1660.9 1352L1661.6 1136L1662.2 1352L1662.9 1055L1663.5 1352L1664.2 1022L1664.9 1352L1665.5 1032L1666.2 1352L1666.8 1142L1667.5 1352L1668.1 1109L1668.8 1352L1669.4 1084L1670.1 1352L1670.7 1211L1671.4 1352L1672.0 1205L1672.7 1352L1673.3 1097L1674.0 1352L1674.6 1160L1675.3 1352L1675.9 1229L1676.6 1352L1677.2 1062L1677.9 1352L1678.5 1113L1679.2 1352L1679.8 1199L1680.5 1352L1681.2 1019L1681.8 1352L1682.5 1027L1683.1 1352L1683.8 985L1684.4 1352L1685.1 1030L1685.7 1352L1686.4 1040L1687.0 1352L1687.7 1249L1688.3 1352L1689.0 1055L1689.6 1352L1690.3 1202L1690.9 1352L1691.6 1142L1692.2 1352L1692.9 1129L1693.5 1352L1694.2 1083L1694.8 1352L1695.5 1136L1696.1 1352L1696.8 1145L1697.5 1352L1698.1 1083L1698.8 1352L1699.4 1269L1700.1 1352L1700.7 1030L1701.4 1352L1702.0 1100L1702.7 1352L1703.3 1229L1704.0 1352L1704.6 1021L1705.3 1352L1705.9 1024L1706.6 1352L1707.2 1167L1707.9 1352L1708.5 1200L1709.2 1352L1709.8 1000L1710.5 1352L1711.1 1080L1711.8 1352L1712.4 1127L1713.1 1352L1713.8 1117L1714.4 1352L1715.1 1271L1715.7 1352L1716.4 1149L1717.0 1352L1717.7 1163L1718.3 1352L1719.0 1081L1719.6 1352L1720.3 1279L1720.9 1352L1721.6 1095L1722.2 1352L1722.9 1088L1723.5 1352L1724.2 1046L1724.8 1352L1725.5 1055L1726.1 1352L1726.8 1267L1727.4 1352L1728.1 1029L1728.7 1352L1729.4 1062L1730.1 1352L1730.7 1093L1731.4 1352L1732.0 1198L1732.7 1352L1733.3 1090L1734.0 1352L1734.6 1176L1735.3 1352L1735.9 1042L1736.6 1352L1737.2 1038L1737.9 1352L1738.5 1073L1739.2 1352L1739.8 1040L1740.5 1352L1741.1 1066L1741.8 1352L1742.4 1056L1743.1 1352L1743.7 1200L1744.4 1352L1745.0 1266L1745.7 1352L1746.4 1052L1747.0 1352L1747.7 1057L1748.3 1352L1749.0 1142L1749.6 1352L1750.3 1052L1750.9 1352L1751.6 1229L1752.2 1352L1752.9 1011L1753.5 1352L1754.2 1078L1754.8 1352L1755.5 1099L1756.1 1352L1756.8 1041L1757.4 1352L1758.1 1147L1758.7 1352L1759.4 978L1760.0 1352L1760.7 1212L1761.3 1352L1762.0 1148" stroke="#ff0000" stroke-width="3.8"/>
<path d="M1008.3 1130L1008.9 1039L1009.6 982L1010.2 924L1010.9 867L1011.5 834L1012.2 812L1012.9 790L1013.5 766L1014.2 741L1014.8 716L1015.5 691L1016.1 655L1016.8 618L1017.4 595L1018.1 575L1018.7 556L1019.4 537L1020.0 518L1020.7 499L1021.3 480L1022.0 462L1022.6 443L1023.3 426L1023.9 409L1024.6 392L1025.2 376L1025.9 359L1026.5 344L1027.2 331L1027.8 317L1028.5 305L1029.2 293L1029.8 281L1030.5 271L1031.1 261L1031.8 250L1032.4 243L1033.1 237L1033.7 230L1034.4 224L1035.0 219L1035.7 214L1036.3 209L1037.0 205L1037.6 200L1038.3 195L1038.9 191L1039.6 186L1040.2 181L1040.9 178L1041.5 174L1042.2 171L1042.8 173L1043.5 176L1044.1 178L1044.8 181L1045.5 183L1046.1 187L1046.8 190L1047.4 193L1048.1 197L1048.7 200L1049.4 206L1050.0 212L1050.7 218L1051.3 224L1052.0 232L1052.6 241L1053.3 251L1053.9 262L1054.6 274L1055.2 285L1055.9 295L1056.5 305L1057.2 315L1057.8 328L1058.5 344L1059.1 367L1059.8 395L1060.4 437L1061.1 467L1061.8 494L1062.4 515L1063.1 532L1063.7 550L1064.4 568L1065.0 588L1065.7 609L1066.3 644L1067.0 695L1067.6 741L1068.3 784L1068.9 809L1069.6 833L1070.2 854L1070.9 867L1071.5 880L1072.2 894L1072.8 908L1073.5 922L1074.1 936L1074.8 950L1075.4 1030" stroke="#ff0000" stroke-width="4.5" stroke-linejoin="round"/>
</g>
<g stroke="#000" stroke-width="3.6" fill="none">
<path d="M1043 176.7H1443"/>
<path d="M1196 927.4H1422.5"/>
<path d="M1376.2 190L1378.4 910" stroke-width="3.9"/>
<path d="M973 599.5H993" stroke-width="3"/>
<path d="M1086 600H1337.5" stroke-width="3"/>
</g>
<g fill="#000">
<path d="M1376 177.5L1367.6 195H1384.6Z"/>
<path d="M1378.5 922.5L1370 906H1387Z"/>
<path d="M1024.5 599.5L991 590V609Z"/>
<path d="M1053.5 600L1088.5 590.5V609.5Z"/>
</g>
<text x="1170.0" y="577.9" font-size="46.0px" font-weight="bold" textLength="148.0" lengthAdjust="spacing" fill="#000" style="font-kerning:none">0.17nm</text>
<text x="1400.0" y="578.9" font-size="46.0px" font-weight="bold" textLength="106.3" lengthAdjust="spacing" fill="#000" style="font-kerning:none">20dB</text>
<path d="M226 88.4H374.5" stroke="#000" stroke-width="5" fill="none"/>
<path d="M226 169H374.5" stroke="#ff0000" stroke-width="4.6" fill="none"/>
<text x="389.5" y="109.8" font-size="65.2px" textLength="591.3" lengthAdjust="spacing" fill="#000" style="font-kerning:none">Free running spectrum</text>
<text x="389.5" y="191.0" font-size="65.2px" textLength="452.9" lengthAdjust="spacing" fill="#000" style="font-kerning:none">Locked spectrum</text>
<g font-size="55.5px" fill="#000" text-anchor="end" letter-spacing="-2.1" style="font-kerning:none">
<text x="167.3" y="150.0">-45</text>
<text x="167.3" y="335.0">-50</text>
<text x="167.3" y="520.0">-55</text>
<text x="167.3" y="705.0">-60</text>
<text x="167.3" y="890.0">-65</text>
<text x="167.3" y="1075.0">-70</text>
<text x="167.3" y="1260.0">-75</text>
</g>
<g font-size="55.5px" fill="#000" text-anchor="middle" style="font-kerning:none">
<text x="196.2" y="1350.2">772</text>
<text x="456.8" y="1350.2">774</text>
<text x="717.3" y="1350.2">776</text>
<text x="977.9" y="1350.2">778</text>
<text x="1238.5" y="1350.2">780</text>
<text x="1499.0" y="1350.2">782</text>
<text x="1759.6" y="1350.2">784</text>
</g>
<text x="751.6" y="1450.2" font-size="65.4px" textLength="458.5" lengthAdjust="spacing" fill="#000" style="font-kerning:none">Wavelength (nm)</text>
<text transform="translate(71.7 835.8) rotate(-90)" x="0" y="0" font-size="65.4px" textLength="367.2" lengthAdjust="spacing" fill="#000" style="font-kerning:none">Intensity (dB)</text>
</svg>
</body>
</html>
